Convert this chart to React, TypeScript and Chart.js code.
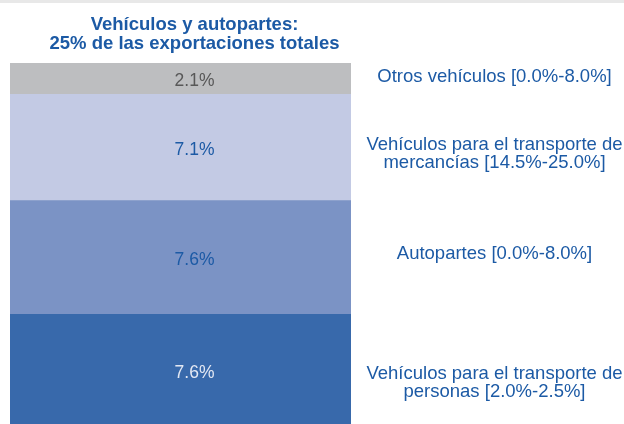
import React, { useEffect, useRef } from "react";
import { Chart, registerables } from "chart.js";

Chart.register(...registerables);

const categories = ["Vehículos y autopartes"];
const titleLines = ["Vehículos y autopartes:", "25% de las exportaciones totales"];
// stacked bottom -> top
const seriesNames = [
  ["Vehículos para el transporte de", "personas [2.0%-2.5%]"],
  ["Autopartes [0.0%-8.0%]"],
  ["Vehículos para el transporte de", "mercancías [14.5%-25.0%]"],
  ["Otros vehículos [0.0%-8.0%]"],
];
const seriesValues = [7.6, 7.6, 7.1, 2.1];
const valueLabels = ["7.6%", "7.6%", "7.1%", "2.1%"];
const seriesColors = ["#3869ab", "#7b93c5", "#c3cae4", "#bdbec0"];
const valueLabelColors = ["#e3e8f3", "#1c5aa5", "#1c5aa5", "#585858"];
const sideLabelOffsets = [8, 2, 2.5, 3.6];

const FONT = "'Liberation Sans', Arial, sans-serif";
const BLUE = "#1c5aa5";

const textPlugin = {
  id: "textPlugin",
  beforeDraw(chart: any) {
    const ctx = chart.ctx;
    ctx.save();
    ctx.fillStyle = "#ffffff";
    ctx.fillRect(0, 0, chart.width, chart.height);
    ctx.fillStyle = "#e8e8e8";
    ctx.fillRect(0, 0, chart.width, 3);
    ctx.restore();
  },
  afterDraw(chart: any) {
    const ctx = chart.ctx;
    const area = chart.chartArea;
    ctx.save();
    // title
    ctx.font = `bold 18.5px ${FONT}`;
    ctx.fillStyle = BLUE;
    ctx.textAlign = "center";
    ctx.textBaseline = "alphabetic";
    const tx = area.left + (area.right - area.left) / 2 + 14;
    titleLines.forEach((t, i) => ctx.fillText(t, tx, 29.5 + i * 19.4));

    chart.data.datasets.forEach((ds: any, i: number) => {
      const meta = chart.getDatasetMeta(i);
      const el: any = meta.data[0];
      if (!el) return;
      const cy = (el.y + el.base) / 2;
      // value label
      ctx.font = `17.5px ${FONT}`;
      ctx.fillStyle = valueLabelColors[i];
      ctx.textAlign = "center";
      ctx.fillText(valueLabels[i], tx, cy + 1 + 17.5 * 0.358);
      // side label
      ctx.font = `18.5px ${FONT}`;
      ctx.fillStyle = BLUE;
      const sx = area.right + (chart.width - area.right) / 2 + 7;
      seriesNames[i].forEach((line, j) => {
        ctx.fillText(line, sx, cy + sideLabelOffsets[i] + j * 17.8);
      });
    });
    ctx.restore();
  },
};

export default function App() {
  const ref = useRef<HTMLCanvasElement | null>(null);
  useEffect(() => {
    if (!ref.current) return;
    const chart = new Chart(ref.current, {
      type: "bar",
      data: {
        labels: categories,
        datasets: seriesValues.map((v, i) => ({
          label: seriesNames[i].join(" "),
          data: [v],
          backgroundColor: seriesColors[i],
          borderWidth: 0,
          barPercentage: 1,
          categoryPercentage: 1,
        })),
      },
      options: {
        animation: false,
        responsive: false,
        layout: { padding: { left: 10, right: 273, top: 63, bottom: 0 } },
        scales: {
          x: { stacked: true, display: false },
          y: { stacked: true, display: false, min: 0.27, max: 24.4 },
        },
        plugins: {
          legend: { display: false },
          tooltip: { enabled: false },
          title: { display: false },
        },
      },
      plugins: [textPlugin],
    });
    return () => chart.destroy();
  }, []);
  return (
    <div style={{ position: "fixed", left: 0, top: 0, width: 624, height: 424, background: "#fff" }}>
      <canvas ref={ref} width={624} height={424} style={{ display: "block" }} />
    </div>
  );
}
